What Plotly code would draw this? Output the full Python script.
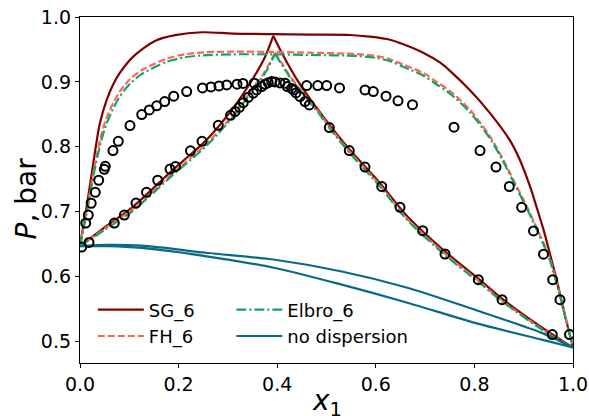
import plotly.graph_objects as go

# ---------------- data ----------------
# SG_6 model: bubble curve (P-x) and dew curve (P-y, left / right legs)
sg_bub_x = [0.0, 0.007, 0.015, 0.025, 0.040, 0.054, 0.068, 0.080, 0.108, 0.152, 0.193, 0.247,
            0.311, 0.392, 0.470, 0.548, 0.588, 0.629, 0.656, 0.696, 0.730, 0.7505, 0.791,
            0.8316, 0.872, 0.891, 0.9128, 0.9264, 0.9412, 0.9533, 0.9686, 0.984, 1.0]
sg_bub_p = [0.647, 0.680, 0.715, 0.765, 0.835, 0.872, 0.897, 0.913, 0.939, 0.963, 0.972, 0.9765,
            0.9745, 0.9735, 0.9728, 0.9723, 0.9697, 0.965, 0.958, 0.945, 0.930, 0.917, 0.887,
            0.852, 0.810, 0.782, 0.7389, 0.7066, 0.6697, 0.6349, 0.5895, 0.5395, 0.491]
sg_dew_l_x = [0.0, 0.05, 0.108, 0.189, 0.257, 0.311, 0.3515, 0.375, 0.392]
sg_dew_l_p = [0.647, 0.676, 0.708, 0.765, 0.811, 0.860, 0.906, 0.938, 0.971]
sg_dew_r_x = [0.392, 0.405, 0.419, 0.443, 0.4665, 0.487, 0.5037, 0.5477, 0.6085, 0.6627,
              0.744, 0.808, 0.856, 0.958, 1.0]
sg_dew_r_p = [0.971, 0.951, 0.931, 0.900, 0.874, 0.853, 0.836, 0.795, 0.744, 0.694,
              0.6365, 0.597, 0.566, 0.511, 0.491]

# FH_6 model
fh_bub_x = [0.0, 0.008, 0.016, 0.030, 0.042, 0.054, 0.078, 0.100, 0.125, 0.176, 0.213, 0.25,
            0.311, 0.392, 0.47, 0.561, 0.6, 0.629, 0.656, 0.696, 0.7235, 0.7505, 0.791,
            0.8316, 0.8586, 0.8858, 0.9073, 0.9296, 0.95, 0.9655, 0.984, 1.0]
fh_bub_p = [0.647, 0.680, 0.712, 0.772, 0.815, 0.845, 0.882, 0.903, 0.918, 0.936, 0.9425, 0.9455,
            0.9466, 0.9462, 0.945, 0.943, 0.940, 0.935, 0.9265, 0.914, 0.900, 0.886, 0.857,
            0.816, 0.780, 0.739, 0.7066, 0.6697, 0.6349, 0.5954, 0.540, 0.491]
fh_dew_l_x = [0.0, 0.05, 0.108, 0.189, 0.257, 0.311, 0.35, 0.375, 0.3955]
fh_dew_l_p = [0.647, 0.674, 0.705, 0.760, 0.805, 0.850, 0.890, 0.916, 0.945]
fh_dew_r_x = [0.3955, 0.41, 0.425, 0.445, 0.4665, 0.487, 0.5037, 0.5477, 0.6085, 0.6627,
              0.744, 0.808, 0.856, 0.958, 1.0]
fh_dew_r_p = [0.945, 0.928, 0.910, 0.890, 0.870, 0.851, 0.833, 0.792, 0.741, 0.690,
              0.633, 0.594, 0.563, 0.509, 0.491]

# Elbro_6 model
el_bub_x = [0.0, 0.008, 0.016, 0.030, 0.042, 0.054, 0.078, 0.100, 0.125, 0.176, 0.213, 0.25,
            0.311, 0.392, 0.47, 0.561, 0.6, 0.629, 0.656, 0.696, 0.7235, 0.7505, 0.791,
            0.8316, 0.8586, 0.8858, 0.9073, 0.9296, 0.95, 0.9655, 0.984, 1.0]
el_bub_p = [0.647, 0.677, 0.708, 0.766, 0.806, 0.836, 0.874, 0.896, 0.912, 0.931, 0.938, 0.941,
            0.9425, 0.9425, 0.9415, 0.940, 0.937, 0.932, 0.923, 0.910, 0.896, 0.882, 0.853,
            0.813, 0.777, 0.736, 0.704, 0.667, 0.632, 0.593, 0.539, 0.491]
el_dew_l_x = [0.0, 0.05, 0.108, 0.189, 0.257, 0.311, 0.35, 0.375, 0.3955]
el_dew_l_p = [0.647, 0.672, 0.702, 0.757, 0.802, 0.847, 0.887, 0.913, 0.943]
el_dew_r_x = [0.3955, 0.41, 0.425, 0.445, 0.4665, 0.487, 0.5037, 0.5477, 0.6085, 0.6627,
              0.744, 0.808, 0.856, 0.958, 1.0]
el_dew_r_p = [0.943, 0.926, 0.908, 0.888, 0.868, 0.849, 0.831, 0.790, 0.739, 0.688,
              0.631, 0.592, 0.562, 0.508, 0.491]

# no dispersion model
nd_bub_x = [0.0, 0.0574, 0.125, 0.26, 0.3955, 0.531, 0.666, 0.801, 0.9365, 1.0]
nd_bub_p = [0.647, 0.649, 0.6477, 0.6365, 0.626, 0.608, 0.5826, 0.549, 0.5134, 0.491]
nd_dew_x = [0.0, 0.0574, 0.125, 0.26, 0.3955, 0.531, 0.666, 0.801, 0.9365, 1.0]
nd_dew_p = [0.647, 0.647, 0.6442, 0.631, 0.6134, 0.5877, 0.5595, 0.5288, 0.503, 0.491]

# experimental points: bubble (upper) set and dew (lower) set
exp_bub_x = [0.0034, 0.0116, 0.0168, 0.0227, 0.0310, 0.0379, 0.0493, 0.0513, 0.0669, 0.0777,
             0.1014, 0.1252, 0.1406, 0.1556, 0.1718, 0.1901, 0.2164, 0.2485, 0.2657, 0.2819,
             0.2976, 0.3185, 0.3306, 0.3535, 0.4598, 0.4822, 0.5004, 0.5264, 0.5781, 0.5949,
             0.6207, 0.6450, 0.6744, 0.7586, 0.8114, 0.8438, 0.8708, 0.8959, 0.9199, 0.9402,
             0.9588, 0.9736, 0.9929]
exp_bub_p = [0.6457, 0.6826, 0.6949, 0.7131, 0.7300, 0.7485, 0.7654, 0.7700, 0.7942, 0.8085,
             0.8328, 0.8497, 0.8569, 0.8631, 0.8697, 0.8780, 0.8851, 0.8908, 0.8923, 0.8938,
             0.8954, 0.8965, 0.8977, 0.8980, 0.8943, 0.8943, 0.8943, 0.8908, 0.8877, 0.8851,
             0.8780, 0.8708, 0.8649, 0.8303, 0.7943, 0.7688, 0.7389, 0.7069, 0.6705, 0.6346,
             0.5954, 0.5646, 0.5108]
exp_dew_x = [0.0183, 0.0696, 0.0899, 0.1136, 0.1349, 0.1576, 0.1826, 0.1937, 0.2241, 0.2475,
             0.2805, 0.3053, 0.3144, 0.3235, 0.3312, 0.3414, 0.3515, 0.3584, 0.3686, 0.3753,
             0.3819, 0.3888, 0.3955, 0.4057, 0.4158, 0.4205, 0.4294, 0.4327, 0.4381, 0.4463,
             0.4564, 0.4651, 0.5057, 0.5462, 0.5781, 0.6120, 0.6491, 0.6951, 0.7404, 0.8079,
             0.8560, 0.9580]
exp_dew_p = [0.6528, 0.6826, 0.6949, 0.7134, 0.7300, 0.7485, 0.7657, 0.7697, 0.7938, 0.8085,
             0.8331, 0.8485, 0.8543, 0.8608, 0.8680, 0.8762, 0.8826, 0.8877, 0.8928, 0.8965,
             0.8989, 0.9005, 0.9000, 0.8985, 0.8980, 0.8928, 0.8900, 0.8877, 0.8831, 0.8774,
             0.8697, 0.8646, 0.8297, 0.7943, 0.7688, 0.7389, 0.7069, 0.6708, 0.6349, 0.5954,
             0.5646, 0.5108]

x_ticks = [0.0, 0.2, 0.4, 0.6, 0.8, 1.0]
y_ticks = [0.5, 0.6, 0.7, 0.8, 0.9, 1.0]

# ---------------- styles ----------------
C_SG = "#800000"
C_FH = "#FF6656"
C_EL = "#17A365"
C_ND = "#0A6A86"
FONT = "DejaVu Sans"


def join(*segs):
    xs, ys = [], []
    for i, (sx, sy) in enumerate(segs):
        if i:
            xs.append(None)
            ys.append(None)
        xs += list(sx)
        ys += list(sy)
    return xs, ys


fig = go.Figure()


def add_model(name, color, dash, bx, bp, dlx, dlp, drx, drp, legend):
    x, y = join((bx, bp), (dlx, dlp), (drx, drp))
    fig.add_trace(go.Scatter(x=x, y=y, mode="lines", name=name, legend=legend,
                             line=dict(color=color, width=2.2, dash=dash, shape="spline",
                                       smoothing=0.8),
                             connectgaps=False))


add_model("SG_6", C_SG, "solid", sg_bub_x, sg_bub_p, sg_dew_l_x, sg_dew_l_p,
          sg_dew_r_x, sg_dew_r_p, "legend")
add_model("FH_6", C_FH, "7px,3px", fh_bub_x, fh_bub_p, fh_dew_l_x, fh_dew_l_p,
          fh_dew_r_x, fh_dew_r_p, "legend")
add_model("Elbro_6", C_EL, "10px,3px,2px,3px", el_bub_x, el_bub_p, el_dew_l_x, el_dew_l_p,
          el_dew_r_x, el_dew_r_p, "legend2")

nx, ny = join((nd_bub_x, nd_bub_p), (nd_dew_x, nd_dew_p))
fig.add_trace(go.Scatter(x=nx, y=ny, mode="lines", name="no dispersion", legend="legend2",
                         line=dict(color=C_ND, width=2.2, shape="spline", smoothing=0.8),
                         connectgaps=False))

ex, ey = join((exp_bub_x, exp_bub_p), (exp_dew_x, exp_dew_p))
fig.add_trace(go.Scatter(x=ex, y=ey, mode="markers", name="exp", showlegend=False,
                         marker=dict(symbol="circle-open", size=9, color="black",
                                     line=dict(width=2, color="black"))))

axis_common = dict(showline=True, linecolor="black", linewidth=1.3, mirror=True,
                   ticks="outside", ticklen=4, tickwidth=1, tickcolor="black",
                   showgrid=False, zeroline=False, automargin=False,
                   tickfont=dict(family=FONT, size=19, color="black"))

fig.update_xaxes(range=[0, 1], tickvals=x_ticks, ticktext=[f"{v:.1f}" for v in x_ticks],
                 **axis_common)
fig.update_yaxes(range=[0.467, 1.0], tickvals=y_ticks, ticktext=[f"{v:.1f}" for v in y_ticks],
                 **axis_common)

leg_common = dict(font=dict(family=FONT, size=18, color="black"), bgcolor="rgba(0,0,0,0)",
                  borderwidth=0, xanchor="left", yanchor="top", itemwidth=46,
                  tracegroupgap=0)
fig.update_layout(
    template="none",
    width=589, height=416,
    margin=dict(l=80, r=16, t=17, b=53, autoexpand=False),
    paper_bgcolor="white", plot_bgcolor="white",
    font=dict(family=FONT, color="black"),
    legend=dict(x=0.026, y=0.207, **leg_common),
    legend2=dict(x=0.307, y=0.207, **leg_common),
    annotations=[
        dict(text="<i>P</i>, bar", xref="paper", yref="paper", x=-0.108, y=0.475,
             textangle=-90, showarrow=False, font=dict(family=FONT, size=28, color="black"),
             xanchor="center", yanchor="middle"),
        dict(text="<i>x</i><sub>1</sub>", xref="paper", yref="paper", x=0.5, y=-0.115,
             showarrow=False, font=dict(family=FONT, size=28, color="black"),
             xanchor="center", yanchor="middle"),
    ],
)

fig.write_html("out.html", config={"displayModeBar": False},
               post_script="document.body.style.margin='0';document.body.style.overflow='hidden';")
